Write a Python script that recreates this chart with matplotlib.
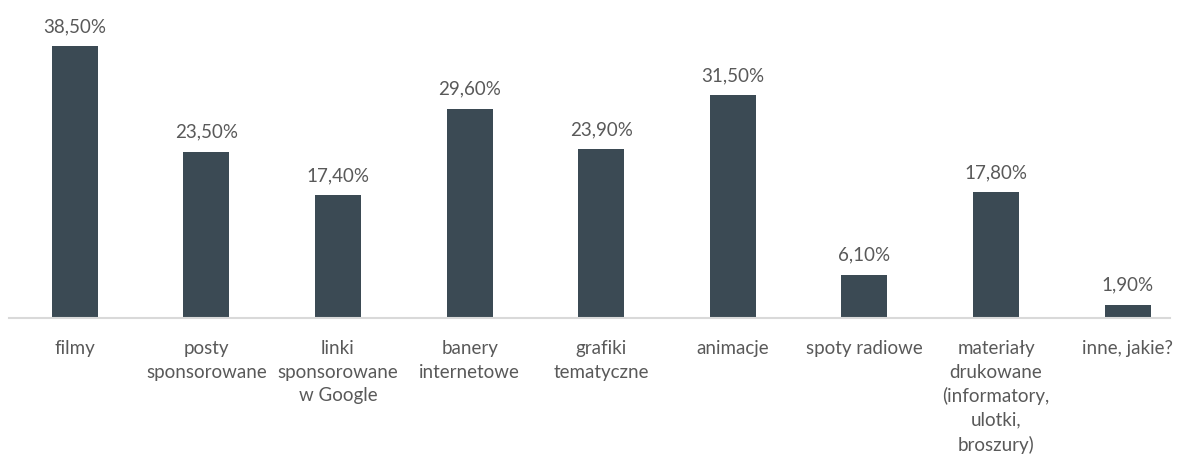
import matplotlib
matplotlib.use("Agg")
import matplotlib.pyplot as plt

# Share of answers per promotion channel (%)
categories = [
    "filmy",
    "posty\nsponsorowane",
    "linki\nsponsorowane\nw Google",
    "banery\ninternetowe",
    "grafiki\ntematyczne",
    "animacje",
    "spoty radiowe",
    "materiały\ndrukowane\n(informatory,\nulotki,\nbroszury)",
    "inne, jakie?",
]
values = [38.5, 23.5, 17.4, 29.6, 23.9, 31.5, 6.1, 17.8, 1.9]

bar_color = "#3b4a54"
text_color = "#595959"

plt.rcParams["font.family"] = ["Lato", "DejaVu Sans"]

fig = plt.figure(figsize=(11.79, 4.55), dpi=100)
ax = fig.add_axes([9 / 1179, 137 / 455, 1161 / 1179, 308 / 455])

x = list(range(len(values)))
bars = ax.bar(x, values, width=0.35, color=bar_color, zorder=2)

ax.set_xlim(-0.5, -0.5 + 1161 / 131.6)
ax.set_ylim(0, 308 / 7.065)

for b, v in zip(bars, values):
    label = ("%.2f" % v).replace(".", ",") + "%"
    ax.annotate(label, (b.get_x() + b.get_width() / 2, v),
                xytext=(0, 8), textcoords="offset points",
                ha="center", va="bottom", fontsize=13.5, color=text_color)

for xi, cat in zip(x, categories):
    ax.annotate(cat, (xi, 0), xytext=(0, -16), textcoords="offset points",
                ha="center", va="top", fontsize=13.5, color=text_color,
                linespacing=1.45, annotation_clip=False)

for side in ["top", "right", "left"]:
    ax.spines[side].set_visible(False)
ax.spines["bottom"].set_color("#d9d9d9")
ax.spines["bottom"].set_linewidth(1.5)
ax.set_xticks([])
ax.set_yticks([])

fig.savefig("out.png", dpi=100)
